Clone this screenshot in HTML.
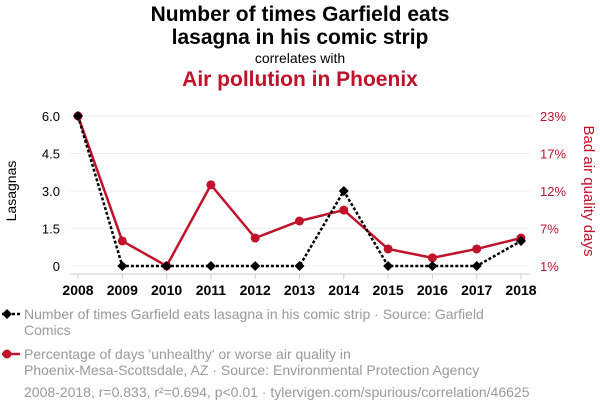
<!DOCTYPE html>
<html><head><meta charset="utf-8"><style>
body{margin:0;background:#fff;font-family:"Liberation Sans",sans-serif;}
#c{position:relative;width:600px;height:414px;overflow:hidden}
.t{position:absolute;left:0;width:600px;text-align:center}
.leg{position:absolute;left:24px;font-size:14px;color:#999;line-height:16px}
</style></head><body><div id="c">
<div class="t" style="top:3px;font-size:21px;font-weight:bold;line-height:23px;color:#000">Number of times Garfield eats<br>lasagna in his comic strip</div>
<div class="t" style="top:50px;font-size:14px">correlates with</div>
<div class="t" style="top:68px;font-size:21px;font-weight:bold;color:#c0122a">Air pollution in Phoenix</div>
<svg id="s" width="600" height="414" style="position:absolute;left:0;top:0"></svg>
<div class="leg" style="top:306px">Number of times Garfield eats lasagna in his comic strip · Source: Garfield<br>Comics</div>
<div class="leg" style="top:346px">Percentage of days 'unhealthy' or worse air quality in<br>Phoenix-Mesa-Scottsdale, AZ · Source: Environmental Protection Agency</div>
<div class="leg" style="left:24px;top:384px">2008-2018, r=0.833, r²=0.694, p&lt;0.01 · tylervigen.com/spurious/correlation/46625</div>
</div>
<script>
const years=[2008,2009,2010,2011,2012,2013,2014,2015,2016,2017,2018];
const lasagna=[6,0,0,0,0,0,3,0,0,0,1];
const air=[23,4.67,1,12.9,5.1,7.6,9.2,3.5,2.2,3.5,5.1];
const leftTicks=[0,1.5,3.0,4.5,6.0];
const leftLabels=["0","1.5","3.0","4.5","6.0"];
const rightLabels=["1%","7%","12%","17%","23%"];
const NS="http://www.w3.org/2000/svg",s=document.getElementById('s');
const x=i=>78+(521-78)*(i)/(years.length-1);
const yL=v=>266-v/6*150;
const yR=v=>266-(v-1)/22*150;
function el(t,a,p){const e=document.createElementNS(NS,t);for(const k in a)e.setAttribute(k,a[k]);(p||s).appendChild(e);return e;}
leftTicks.forEach((v,i)=>{
 const g=el('line',{x1:70,x2:530,y1:yL(v),y2:yL(v),stroke:'#eee'});
 
 
 const t=el('text',{x:60,y:yL(v)+5,'text-anchor':'end','font-size':13,fill:'#000'});t.textContent=leftLabels[i];
 
 
 const r=el('text',{x:540,y:yL(v)+5,'font-size':13,fill:'#c0122a'});r.textContent=rightLabels[i];
 
 
});
const ax=el('line',{x1:70,x2:530,y1:274,y2:274,stroke:'#ccc'});


years.forEach((yr,i)=>{
 el('line',{x1:x(i),x2:x(i),y1:274,y2:279,stroke:'#ccc'});
 const t=el('text',{x:x(i),y:295,'text-anchor':'middle','font-size':14,'font-weight':'bold'});t.textContent=yr;
 
 
});
const yt=el('text',{transform:'translate(16,191) rotate(-90)','text-anchor':'middle','font-size':14});yt.textContent='Lasagnas';


const yt2=el('text',{transform:'translate(584,191) rotate(90)','text-anchor':'middle','font-size':15,fill:'#c0122a'});yt2.textContent='Bad air quality days';


const rl=el('polyline',{points:air.map((v,i)=>x(i)+','+yR(v)).join(' '),fill:'none',stroke:'#c0122a','stroke-width':2.5});


air.forEach((v,i)=>{const c=el('circle',{cx:x(i),cy:yR(v),r:4.5,fill:'#c0122a'});
 
 });
const bl=el('polyline',{points:lasagna.map((v,i)=>x(i)+','+yL(v)).join(' '),fill:'none',stroke:'#000','stroke-width':2.5,'stroke-dasharray':'3 2'});


function dia(cx,cy,r){return el('polygon',{points:`${cx},${cy-r} ${cx+r},${cy} ${cx},${cy+r} ${cx-r},${cy}`,fill:'#000'});}
lasagna.forEach((v,i)=>{const d=dia(x(i),yL(v),5);
 
 });
el('line',{x1:2,x2:20,y1:314,y2:314,stroke:'#000','stroke-width':2.5,'stroke-dasharray':'3 2'});dia(7,314,5);
el('line',{x1:2,x2:20,y1:354,y2:354,stroke:'#c0122a','stroke-width':2.5});el('circle',{cx:7,cy:354,r:4.5,fill:'#c0122a'});
</script></body></html>
